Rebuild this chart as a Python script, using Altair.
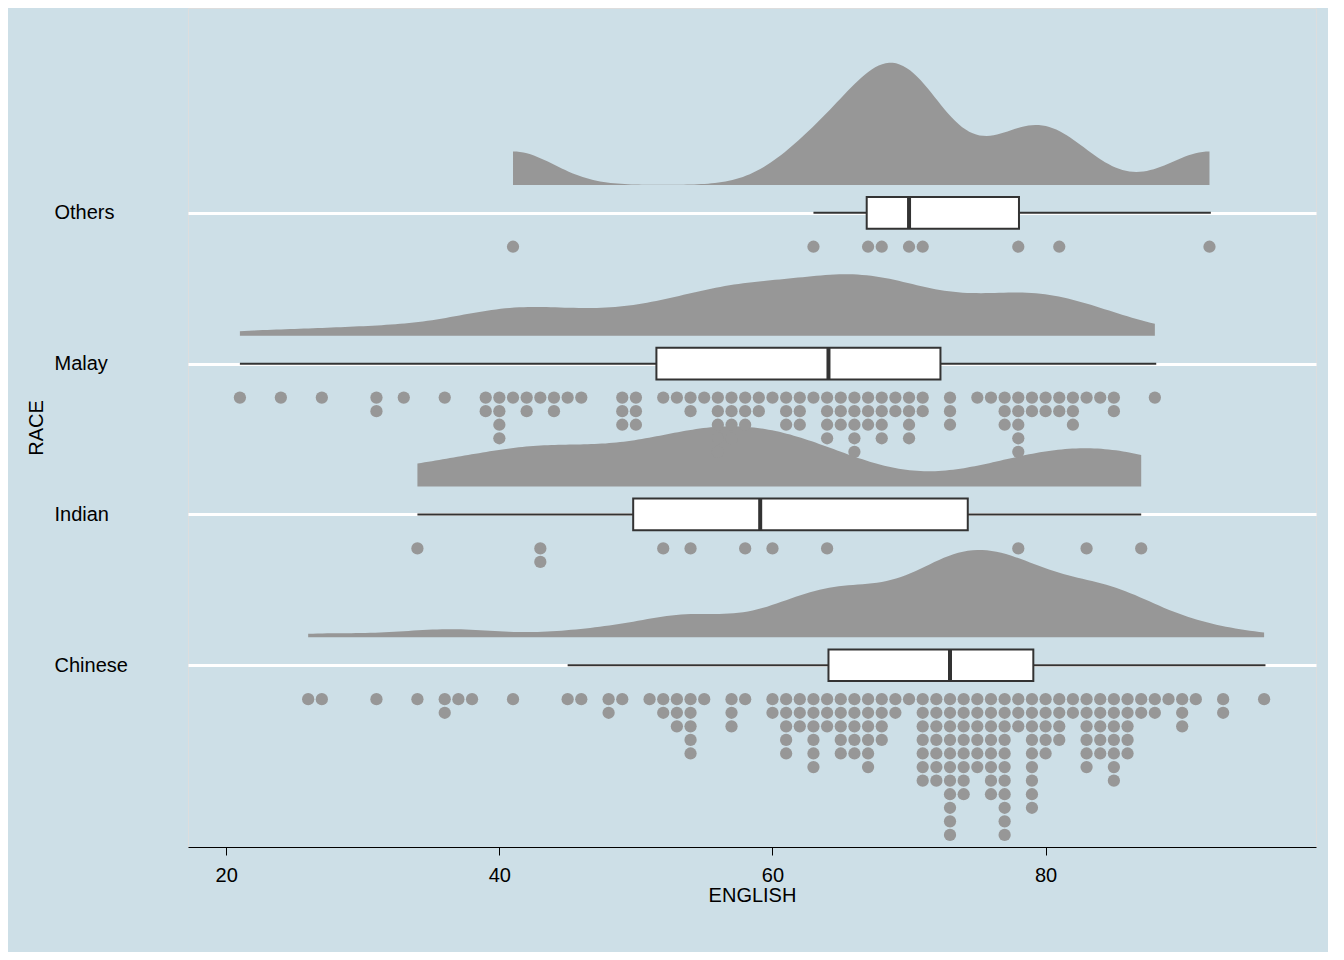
import altair as alt
import pandas as pd

races = ["Chinese", "Indian", "Malay", "Others"]

# dot values and how many dots are stacked at each value
chinese_vals = [26, 27, 31, 34, 36, 37, 38, 41, 45, 46, 48, 49, 51, 52, 53, 54, 55, 57, 58,
                60, 61, 62, 63, 64, 65, 66, 67, 68, 69, 70, 71, 72, 73, 74, 75, 76, 77, 78, 79,
                80, 81, 82, 83, 84, 85, 86, 87, 88, 89, 90, 91, 93, 96]
chinese_cnt = [1, 1, 1, 1, 2, 1, 1, 1, 1, 1, 2, 1, 1, 2, 3, 5, 1, 3, 1,
               2, 5, 3, 6, 3, 5, 5, 6, 4, 2, 1, 7, 7, 11, 8, 6, 8, 11, 3, 9,
               5, 4, 2, 6, 5, 7, 5, 2, 2, 1, 3, 1, 2, 1]
indian_vals = [34, 43, 52, 54, 58, 60, 64, 78, 83, 87]
indian_cnt = [1, 2, 1, 1, 1, 1, 1, 1, 1, 1]
malay_vals = [21, 24, 27, 31, 33, 36, 39, 40, 41, 42, 43, 44, 45, 46, 49, 50, 52, 53, 54, 55,
              56, 57, 58, 59, 60, 61, 62, 63, 64, 65, 66, 67, 68, 69, 70, 71, 73, 75, 76, 77,
              78, 79, 80, 81, 82, 83, 84, 85, 88]
malay_cnt = [1, 1, 1, 2, 1, 1, 2, 4, 1, 2, 1, 2, 1, 1, 3, 3, 1, 1, 2, 1,
             5, 4, 3, 2, 1, 3, 3, 1, 4, 3, 5, 3, 4, 2, 4, 2, 3, 1, 1, 3,
             5, 2, 2, 2, 3, 1, 1, 2, 1]
others_vals = [41, 63, 67, 68, 70, 71, 78, 81, 92]
others_cnt = [1, 1, 1, 1, 1, 1, 1, 1, 1]

# box summaries: whisker low, q1, median, q3, whisker high
box_lo = [45, 34, 21, 63]
box_q1 = [64.1, 49.8, 51.5, 66.9]
box_med = [73, 59.1, 64.1, 70]
box_q3 = [79.1, 74.3, 72.3, 78.05]
box_hi = [96.1, 87, 88.1, 92.1]
bandwidths = [3, 5, 4, 3]

rows = []
for i, (vals, cnts) in enumerate([(chinese_vals, chinese_cnt), (indian_vals, indian_cnt),
                                  (malay_vals, malay_cnt), (others_vals, others_cnt)]):
    for v, c in zip(vals, cnts):
        for k in range(c):
            rows.append({"race": races[i], "pos": i + 1, "ENGLISH": v,
                         "yd": i + 1 - 0.225 - k * 0.09})
pts = pd.DataFrame(rows)

box = pd.DataFrame({"race": races, "pos": [1, 2, 3, 4], "lo": box_lo, "q1": box_q1,
                    "med": box_med, "q3": box_q3, "hi": box_hi})
box["top"] = box["pos"] + 0.105
box["bot"] = box["pos"] - 0.105

xs = alt.Scale(domain=[17.2, 99.8], nice=False, zero=False)
ys = alt.Scale(domain=[-0.205, 5.358], nice=False, zero=False)

x_axis = alt.Axis(values=[20, 40, 60, 80], grid=False, domainColor="black",
                  tickColor="black", tickSize=8, labelFontSize=20, titleFontSize=20,
                  labelColor="black", titleColor="black", titleFontWeight="normal",
                  labelPadding=10, titlePadding=0, labelFlush=False)
y_axis = alt.Axis(values=[1, 2, 3, 4], grid=True, gridColor="white", gridWidth=3,
                  domain=False, ticks=False, labelFontSize=20, titleFontSize=20,
                  labelColor="black", titleColor="black", titleFontWeight="normal",
                  labelAlign="left", labelPadding=134, titlePadding=8,
                  labelExpr="['', 'Chinese', 'Indian', 'Malay', 'Others'][datum.value]")


def X(f):
    return alt.X(f, scale=xs, axis=x_axis, title="ENGLISH")


def Y(f):
    return alt.Y(f, scale=ys, axis=y_axis, title="RACE")


K = 15
clouds = []
for i, r in enumerate(races):
    sub = pts[pts.race == r]
    c = alt.Chart(pts).transform_filter(alt.datum.race == r).transform_density(
        "ENGLISH", extent=[float(sub.ENGLISH.min()), float(sub.ENGLISH.max())], steps=200,
        bandwidth=bandwidths[i], as_=["ENGLISH", "d"]
    ).transform_calculate(
        y=f"{i + 1.185} + datum.d * {K}", y0=f"{i + 1.185}"
    ).mark_area(color="#979797").encode(x=X("ENGLISH:Q"), y=Y("y:Q"), y2="y0:Q")
    clouds.append(c)

dots = alt.Chart(pts).mark_circle(size=150, color="#979797", opacity=1).encode(
    x=X("ENGLISH:Q"), y=Y("yd:Q"))

whisk = alt.Chart(box).mark_rule(color="#333333", strokeWidth=2).encode(
    x=X("lo:Q"), x2="hi:Q", y=Y("pos:Q"))
boxes = alt.Chart(box).mark_rect(fill="white", stroke="#333333", strokeWidth=2).encode(
    x=X("q1:Q"), x2="q3:Q", y=Y("bot:Q"), y2="top:Q")
meds = alt.Chart(box).mark_rule(color="#333333", strokeWidth=4).encode(
    x=X("med:Q"), y=Y("bot:Q"), y2="top:Q")

chart = alt.layer(*clouds, dots, whisk, boxes, meds).properties(
    width=1128, height=839, background="#cddfe7",
    autosize=alt.AutoSizeParams(type="none"),
    padding={"left": 180, "top": 0, "right": 12, "bottom": 105}
).configure_view(strokeWidth=0).configure(font="Liberation Sans")

chart.save("out.html", embed_options={"renderer": "svg", "actions": False})
